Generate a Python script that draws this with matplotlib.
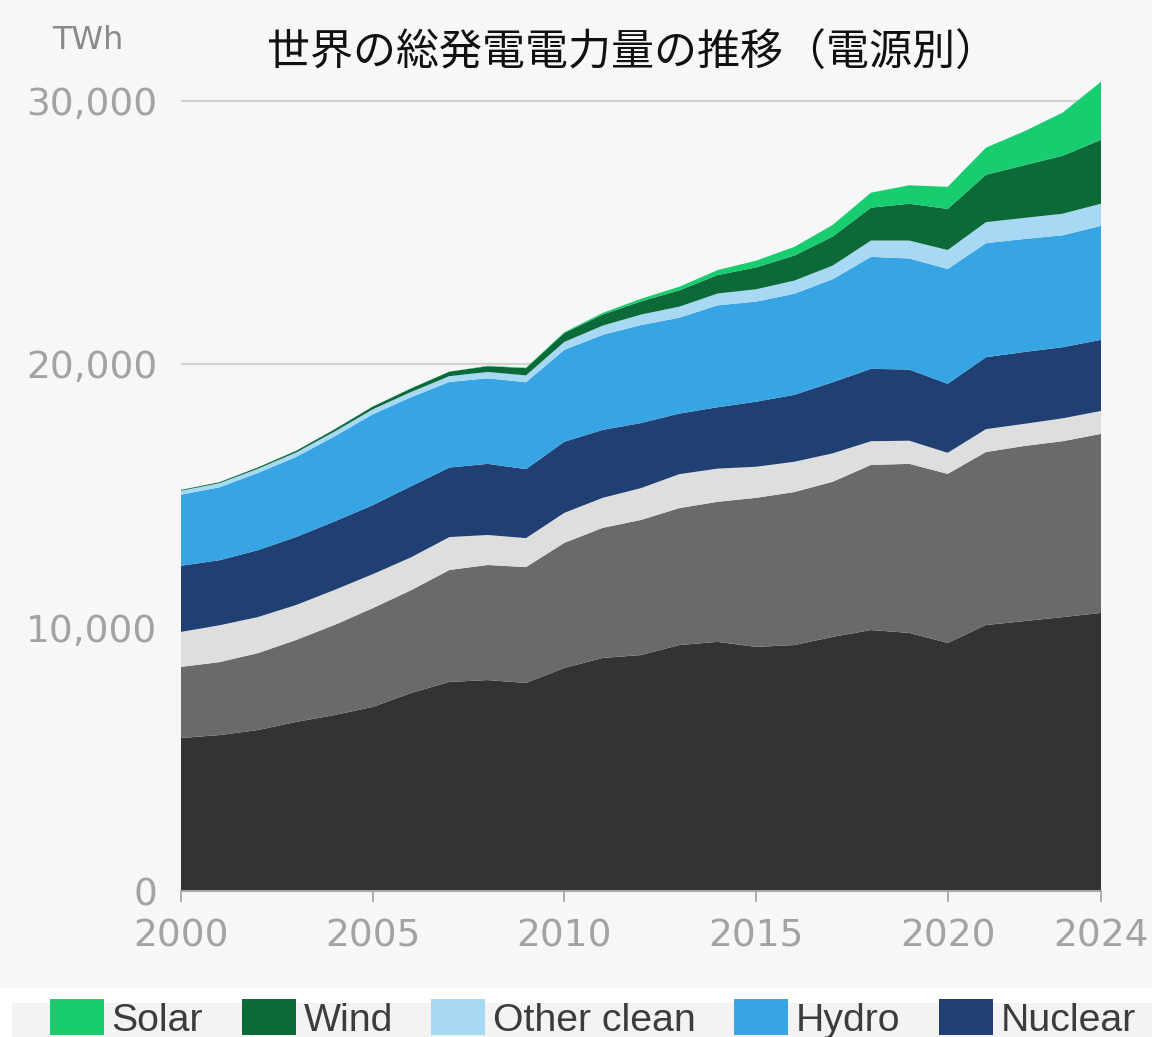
import numpy as np
import matplotlib.pyplot as plt
from matplotlib.patches import Rectangle
from matplotlib.ticker import FuncFormatter

# world electricity generation by source, TWh
years = np.arange(2000, 2025)
coal = [5810, 5920, 6110, 6420, 6680, 6990, 7520, 7940, 8010, 7900, 8470, 8850, 8960,
        9340, 9460, 9270, 9340, 9650, 9910, 9800, 9420, 10100, 10250, 10400, 10560]
gas = [2700, 2770, 2920, 3110, 3420, 3750, 3900, 4250, 4370, 4400, 4750, 4940, 5130,
       5200, 5320, 5660, 5810, 5890, 6270, 6420, 6420, 6570, 6650, 6680, 6800]
other_fossil = [1330, 1400, 1370, 1330, 1330, 1290, 1250, 1250, 1140, 1100, 1140, 1140, 1210,
                1290, 1260, 1180, 1150, 1080, 900, 880, 800, 870, 840, 870, 870]
nuclear = [2510, 2470, 2540, 2580, 2600, 2620, 2700, 2640, 2700, 2620, 2700, 2580, 2470,
           2300, 2330, 2470, 2540, 2700, 2750, 2700, 2620, 2730, 2730, 2700, 2700]
hydro = [2700, 2770, 2930, 3040, 3230, 3450, 3380, 3250, 3250, 3300, 3490, 3610, 3720,
         3640, 3870, 3800, 3840, 3910, 4250, 4220, 4360, 4330, 4290, 4250, 4330]
other_clean = [150, 155, 160, 170, 180, 190, 200, 220, 240, 260, 300, 350, 400,
               420, 450, 470, 500, 520, 620, 680, 720, 800, 800, 820, 840]
wind = [31, 38, 52, 63, 85, 104, 133, 170, 220, 275, 340, 420, 500,
        620, 700, 830, 950, 1100, 1250, 1400, 1560, 1800, 2000, 2200, 2430]
solar = [1, 2, 2, 3, 3, 4, 6, 8, 12, 20, 32, 63, 100,
         137, 190, 255, 330, 445, 570, 700, 840, 1030, 1290, 1640, 2200]

labels = ["Coal", "Gas", "Other fossil", "Nuclear", "Hydro", "Other clean", "Wind", "Solar"]
colors = ["#333333", "#6a6a6a", "#dedede", "#203f72", "#37a4e4", "#a7d8f4", "#0c6a39", "#17cd6f"]

W, H = 1152, 1037
fig = plt.figure(figsize=(W / 100, H / 100), dpi=100)
fig.patch.set_facecolor("white")

# panel backgrounds
fig.patches.append(Rectangle((0, 49 / H), 1, 1 - 49 / H, transform=fig.transFigure,
                             facecolor="#f7f7f7", edgecolor="none", zorder=-2))
fig.patches.append(Rectangle((12 / W, 0), 1, 34 / H, transform=fig.transFigure,
                             facecolor="#f3f3f3", edgecolor="none", zorder=-2))

# 790 px for 30,000 TWh, zero line at 891 px from the top
ymax = 31000
px_per_twh = 790 / 30000
ax = fig.add_axes([181 / W, (H - 891) / H, 920 / W, ymax * px_per_twh / H])
ax.set_facecolor("none")

polys = ax.stackplot(years, coal, gas, other_fossil, nuclear, hydro, other_clean, wind, solar,
                     labels=labels, colors=colors, lw=0, zorder=2)

ax.set_xlim(2000, 2024)
ax.set_ylim(0, ymax)
ax.set_xticks([2000, 2005, 2010, 2015, 2020, 2024])
ax.set_yticks([0, 10000, 20000, 30000])
ax.yaxis.set_major_formatter(FuncFormatter(lambda v, p: f"{int(v):,}"))

ax.grid(axis="y", color="#d2d2d2", lw=1.6, zorder=1)
ax.grid(axis="x", visible=False)
for s in ["top", "right", "left"]:
    ax.spines[s].set_visible(False)
ax.spines["bottom"].set_color("#a8a8a8")
ax.spines["bottom"].set_linewidth(1.5)
ax.spines["bottom"].set_zorder(3)

ax.tick_params(axis="y", length=0, pad=17, labelsize=27, labelcolor="#a3a3a3")
ax.tick_params(axis="x", length=8, width=1.3, color="#a8a8a8", pad=12,
               labelsize=27, labelcolor="#a3a3a3")

fig.text(267 / W, 1 - 54 / H, "世界の総発電電力量の推移（電源別）", fontsize=31,
         family=["Noto Sans CJK JP", "DejaVu Sans"], color="#111111", ha="left", va="center")
fig.text(88 / W, 1 - 40 / H, "TWh", fontsize=23, color="#8a8a8a", ha="center", va="center")

order = [7, 6, 5, 4, 3]
fig.legend([polys[i] for i in order], [labels[i] for i in order],
           loc="center left", bbox_to_anchor=(50 / W, 1 - 1019 / H), ncol=5,
           frameon=False, prop={"family": ["Liberation Sans", "DejaVu Sans"], "size": 28.3},
           labelcolor="#3c3c3c", handlelength=1.37, handleheight=1.0, handletextpad=0.2,
           columnspacing=0.98, borderpad=0, borderaxespad=0)

fig.savefig("out.png", dpi=100, facecolor=fig.get_facecolor())
